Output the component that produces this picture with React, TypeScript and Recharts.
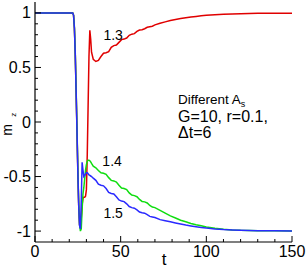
import React from 'react';
import { LineChart, Line, XAxis, YAxis, ReferenceDot } from 'recharts';

const times = [
  0, 22, 22.5, 23, 23.5, 24, 24.5, 25, 25.5, 26, 26.5, 27, 27.5, 28, 28.5, 29, 29.5, 30, 30.5, 31,
  31.5, 32, 32.5, 33, 34, 35.5, 37, 38.5, 40, 41.5, 43, 44.5, 46, 47.5, 49, 50.5, 52, 53.5, 55, 56.5,
  58, 59.5, 61, 62.5, 64, 65.5, 67, 68.5, 70, 73, 76, 79, 82, 85, 88, 91, 94, 97, 100, 105,
  110, 115, 120, 130, 140, 150,
];

// A_s = 1.3
const mz13 = [
  1, 1, 0.98, 0.86, 0.62, 0.28, -0.08, -0.45, -0.76, -0.94, -0.97, -0.88, -0.76, -0.7, -0.69, -0.69, -0.68, -0.62, -0.3, 0.15,
  0.6, 0.84, 0.76, 0.64, 0.575, 0.555, 0.565, 0.6, 0.63, 0.635, 0.645, 0.685, 0.7, 0.705, 0.73, 0.755, 0.76, 0.77, 0.795, 0.805,
  0.81, 0.83, 0.843, 0.846, 0.855, 0.868, 0.873, 0.878, 0.89, 0.905, 0.918, 0.93, 0.94, 0.948, 0.955, 0.962, 0.968, 0.974, 0.978, 0.984,
  0.988, 0.991, 0.993, 0.996, 0.997, 0.998,
];

// A_s = 1.4
const mz14 = [
  1, 1, 0.98, 0.87, 0.64, 0.3, -0.05, -0.42, -0.74, -0.94, -1.0, -0.98, -0.8, -0.66, -0.6, -0.52, -0.44, -0.39, -0.36, -0.35,
  -0.35, -0.355, -0.365, -0.38, -0.405, -0.42, -0.445, -0.465, -0.47, -0.48, -0.51, -0.535, -0.54, -0.55, -0.58, -0.605, -0.61, -0.62, -0.65, -0.67,
  -0.675, -0.685, -0.71, -0.728, -0.732, -0.742, -0.765, -0.78, -0.785, -0.81, -0.835, -0.86, -0.88, -0.9, -0.915, -0.93, -0.942, -0.952, -0.962, -0.974,
  -0.983, -0.989, -0.993, -0.997, -0.998, -0.999,
];

// A_s = 1.5
const mz15 = [
  1, 1, 0.98, 0.86, 0.62, 0.28, -0.08, -0.45, -0.76, -0.95, -0.98, -0.72, -0.37, -0.44, -0.5, -0.49, -0.475, -0.465, -0.465, -0.475,
  -0.485, -0.49, -0.495, -0.5, -0.515, -0.535, -0.57, -0.58, -0.585, -0.61, -0.645, -0.655, -0.66, -0.685, -0.715, -0.725, -0.73, -0.75, -0.775, -0.785,
  -0.79, -0.805, -0.825, -0.832, -0.836, -0.85, -0.865, -0.87, -0.875, -0.895, -0.905, -0.915, -0.925, -0.935, -0.945, -0.953, -0.96, -0.966, -0.972, -0.98,
  -0.986, -0.99, -0.993, -0.997, -0.998, -0.999,
];

const xTicks = [0, 10, 20, 30, 40, 50, 60, 70, 80, 90, 100, 110, 120, 130, 140, 150];
const xMajor = [0, 50, 100, 150];
const yTicks = [-1, -0.9, -0.8, -0.7, -0.6, -0.5, -0.4, -0.3, -0.2, -0.1, 0, 0.1, 0.2, 0.3, 0.4, 0.5, 0.6, 0.7, 0.8, 0.9, 1];
const yMajor = [-1, -0.5, 0, 0.5, 1];

const curveLabels = [
  { name: '1.3', t: 45.6, m: 0.8 },
  { name: '1.4', t: 45, m: -0.36 },
  { name: '1.5', t: 45.6, m: -0.83 },
];

const data = times.map((t, i) => ({ t, a13: mz13[i], a14: mz14[i], a15: mz15[i] }));

const FONT = '"Liberation Sans", Arial, sans-serif';

const XTick = (props: any) => {
  const { x, y, payload } = props;
  const major = xMajor.includes(payload.value);
  return (
    <g>
      <line x1={x} x2={x} y1={y} y2={y - (major ? 6 : 3)} stroke="#000" strokeWidth={1} />
      {major && (
        <text x={x} y={y + 15} textAnchor="middle" fontSize={16} fontFamily={FONT} fill="#000">
          {payload.value}
        </text>
      )}
    </g>
  );
};

const YTick = (props: any) => {
  const { x, y, payload } = props;
  const major = yMajor.includes(payload.value);
  return (
    <g>
      <line x1={x} x2={x + (major ? 6 : 3)} y1={y} y2={y} stroke="#000" strokeWidth={1} />
      {major && (
        <text x={x - 4} y={y + 5.5} textAnchor="end" fontSize={16} fontFamily={FONT} fill="#000">
          {payload.value}
        </text>
      )}
    </g>
  );
};

export default function App() {
  return (
    <div style={{ position: 'absolute', left: 0, top: 0, width: 308, height: 273, background: '#fff' }}>
      <LineChart width={308} height={273} data={data} margin={{ top: 2, right: 16, bottom: 0, left: 0 }}>
        <XAxis
          dataKey="t"
          type="number"
          domain={[0, 150]}
          ticks={xTicks}
          interval={0}
          tickSize={0}
          tickMargin={0}
          height={31}
          tick={<XTick />}
          axisLine={{ stroke: '#000', strokeWidth: 1.2 }}
        />
        <YAxis
          type="number"
          domain={[-1.1, 1.1]}
          ticks={yTicks}
          interval={0}
          tickSize={0}
          tickMargin={0}
          width={35}
          tick={<YTick />}
          axisLine={{ stroke: '#000', strokeWidth: 1.2 }}
          allowDataOverflow
        />
        <Line dataKey="a13" stroke="#e00000" strokeWidth={1.5} dot={false} isAnimationActive={false} type="linear" />
        <Line dataKey="a14" stroke="#10dd10" strokeWidth={1.5} dot={false} isAnimationActive={false} type="linear" />
        <Line dataKey="a15" stroke="#2a2aff" strokeWidth={1.5} dot={false} isAnimationActive={false} type="linear" />
        {curveLabels.map((c) => (
          <ReferenceDot
            key={c.name}
            x={c.t}
            y={c.m}
            r={0}
            fill="none"
            stroke="none"
            label={{ value: c.name, position: 'center', fontSize: 14, fontFamily: FONT, fill: '#000' }}
          />
        ))}
      </LineChart>
      <svg width={308} height={273} style={{ position: 'absolute', left: 0, top: 0, pointerEvents: 'none' }}>
        <g fontFamily={FONT} fill="#000">
          <text x={178} y={104} fontSize={13.5}>
            Different A<tspan fontSize={9} dy={3}>s</tspan>
          </text>
          <text x={178} y={121.7} fontSize={16}>G=10, r=0.1,</text>
          <text x={178} y={137.7} fontSize={16}>Δt=6</text>
          <text x={164} y={265} fontSize={17} textAnchor="middle">t</text>
          <text transform="translate(12,130) rotate(-90)" fontSize={14} textAnchor="middle">m</text>
          <text transform="translate(15.5,114.7) rotate(-90)" fontSize={8} textAnchor="middle">z</text>
        </g>
      </svg>
    </div>
  );
}
